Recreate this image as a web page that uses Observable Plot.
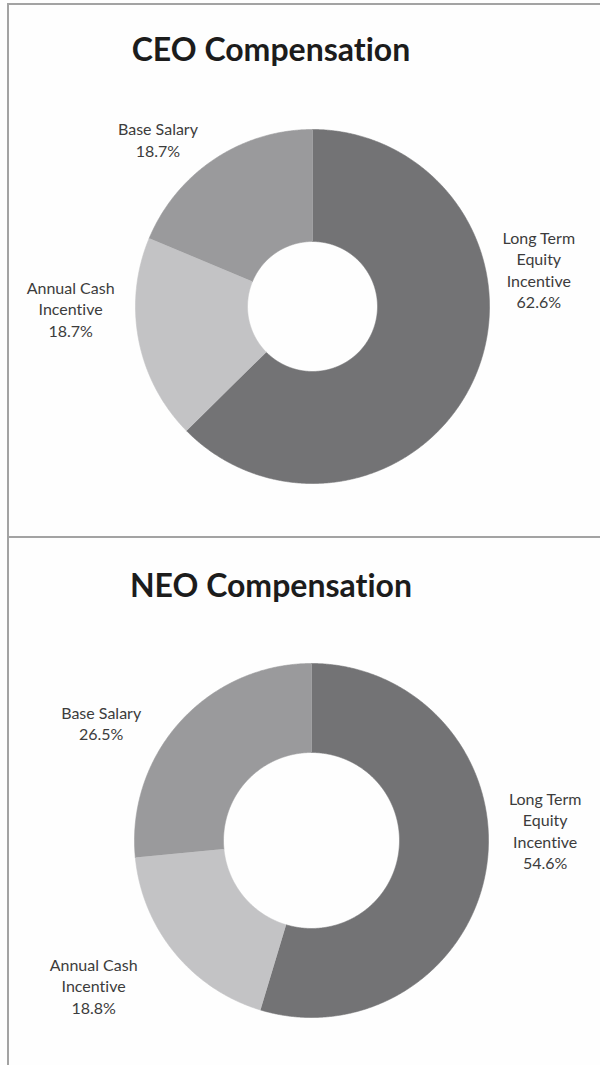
<!DOCTYPE html>
<html>
<head>
<meta charset="utf-8">
<script src="https://cdn.jsdelivr.net/npm/d3@7"></script>
<script src="https://cdn.jsdelivr.net/npm/@observablehq/plot@0.6"></script>
<style>
  html, body { margin: 0; padding: 0; background: #ffffff; }
  #page { position: relative; width: 600px; height: 1065px; overflow: hidden; background: #fefefe; font-family: Lato, "Open Sans", sans-serif; font-variant-ligatures: none; }
  .frame { position: absolute; left: 7px; top: 3px; width: 700px; height: 1200px; border-top: 2px solid #a3a3a3; border-left: 2px solid #a3a3a3; }
  .divider { position: absolute; left: 7px; top: 536px; width: 700px; border-top: 2px solid #a3a3a3; }
  .title { position: absolute; left: 0; width: 542px; text-align: center; font-family: Lato, sans-serif; font-weight: 700; font-size: 32px; line-height: 32px; color: #1c1c1c; font-variant-ligatures: none; }
  .chart { position: absolute; left: 0; }
  .chart svg { display: block; background: transparent; font-variant-ligatures: none; }
  .chart svg text { font-variant-ligatures: none; }
</style>
</head>
<body>
<div id="page">
  <div class="frame"></div>
  <div class="divider"></div>
  <div class="title" id="t1" style="top:33px">CEO Compensation</div>
  <div class="chart" id="c1" style="top:80px"></div>
  <div class="title" id="t2" style="top:569px">NEO Compensation</div>
  <div class="chart" id="c2" style="top:615px"></div>
</div>
<script>
// ---- data ----
const categories = ["Long Term Equity Incentive", "Annual Cash Incentive", "Base Salary"];
const labelTexts = ["Long Term\nEquity\nIncentive", "Annual Cash\nIncentive", "Base Salary"];
const ceoValues = [62.6, 18.7, 18.7];
const neoValues = [54.6, 18.8, 26.5];
const ceoPercentLabels = ["62.6%", "18.7%", "18.7%"];
const neoPercentLabels = ["54.6%", "18.8%", "26.5%"];

// ---- style / layout ----
const sliceColors = ["#737375", "#c3c3c5", "#9a9a9c"];
const W = 600, H = 440, R = 177;
const layouts = {
  ceo: { cx: 312, cy: 226, inner: 65 / 177, nudge: [[14, -126], [-16, -42], [-27, 24]] },
  neo: { cx: 311, cy: 225, inner: 88 / 177, nudge: [[6, -44], [-40, -1], [-40, 37]] }
};

function donut(values, percents, lay) {
  const total = d3.sum(values);
  const rows = [];
  const labels = [];
  let acc = 0;
  values.forEach((v, i) => {
    const a0 = acc / total * 2 * Math.PI;
    acc += v;
    const a1 = acc / total * 2 * Math.PI;
    const n = Math.max(2, Math.ceil((a1 - a0) / 0.005));
    for (let k = 0; k <= n; k++) {
      const a = a0 + (a1 - a0) * k / n;
      rows.push({slice: categories[i], x: Math.sin(a), y: Math.cos(a)});
    }
    for (let k = n; k >= 0; k--) {
      const a = a0 + (a1 - a0) * k / n;
      rows.push({slice: categories[i], x: lay.inner * Math.sin(a), y: lay.inner * Math.cos(a)});
    }
    const am = (a0 + a1) / 2;
    const [nx, ny] = lay.nudge[i];
    labels.push({
      x: 1.3 * Math.sin(am) + nx / R,
      y: 1.3 * Math.cos(am) - ny / R,
      text: labelTexts[i] + "\n" + percents[i]
    });
  });
  return Plot.plot({
    width: W, height: H,
    margin: 0,
    style: { background: "transparent", overflow: "visible" },
    x: { domain: [-lay.cx / R, (W - lay.cx) / R], axis: null },
    y: { domain: [-(H - lay.cy) / R, lay.cy / R], axis: null },
    color: { domain: categories, range: sliceColors },
    marks: [
      Plot.line(rows, { x: "x", y: "y", z: "slice", fill: "slice", stroke: "slice", strokeWidth: 0.6 }),
      Plot.text(labels, { x: "x", y: "y", text: "text", fontSize: 16, lineHeight: 1.34, fill: "#3c3c3c", fontFamily: "Lato, sans-serif" })
    ]
  });
}

document.getElementById("c1").append(donut(ceoValues, ceoPercentLabels, layouts.ceo));
document.getElementById("c2").append(donut(neoValues, neoPercentLabels, layouts.neo));
</script>
</body>
</html>
